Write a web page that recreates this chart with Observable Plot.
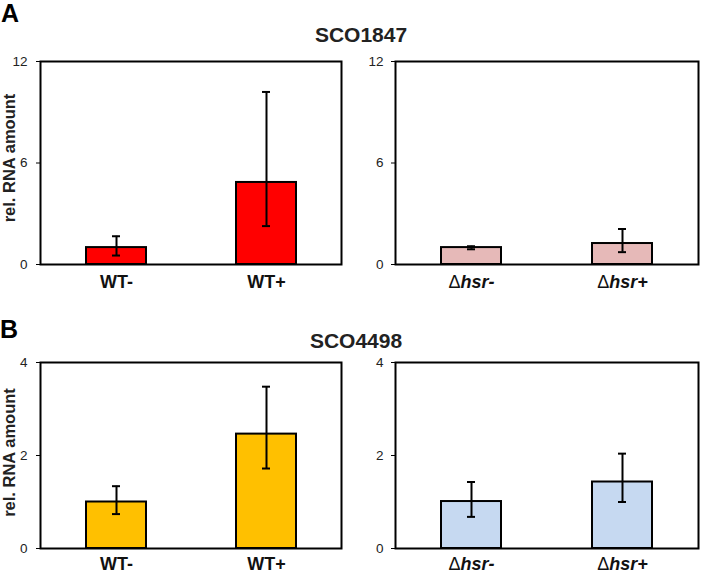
<!DOCTYPE html>
<html>
<head>
<meta charset="utf-8">
<script src="https://cdn.jsdelivr.net/npm/d3@7"></script>
<script src="https://cdn.jsdelivr.net/npm/@observablehq/plot@0.6"></script>
<style>
  html, body { margin: 0; padding: 0; background: #fff; }
  #root { position: relative; width: 702px; height: 574px; background: #fff; overflow: hidden;
          font-family: "Liberation Sans", Arial, Helvetica, sans-serif; color: #000; }
  .abs { position: absolute; line-height: 1; white-space: nowrap; }
  .letter { font-size: 25px; font-weight: bold; }
  .title { font-size: 21px; font-weight: bold; text-align: center; width: 200px; color: #222; }
</style>
</head>
<body>
<div id="root">
  <div class="abs letter" style="left:1px; top:1px;">A</div>
  <div class="abs title" style="left:261px; top:24px;">SCO1847</div>
  <div class="abs letter" style="left:0px; top:317px;">B</div>
  <div class="abs title" style="left:256px; top:330px;">SCO4498</div>
</div>
<script>
// ---- data ----
const catsWT = ["WT-", "WT+"];
const catsHsr = ["Δhsr-", "Δhsr+"];

const sco1847WT = [1.0, 4.85];
const sco1847WTLow = [0.53, 2.27];
const sco1847WTHigh = [1.67, 10.2];

const sco1847Hsr = [1.0, 1.24];
const sco1847HsrLow = [0.9, 0.73];
const sco1847HsrHigh = [1.08, 2.1];

const sco4498WT = [1.0, 2.46];
const sco4498WTLow = [0.74, 1.72];
const sco4498WTHigh = [1.34, 3.48];

const sco4498Hsr = [1.01, 1.43];
const sco4498HsrLow = [0.68, 1.0];
const sco4498HsrHigh = [1.43, 2.04];

const ticksA = [0, 6, 12];
const ticksB = [0, 2, 4];
const yLabel = "rel. RNA amount";

const colors = {
  red: "#ff0000",
  pink: "#e6b9b8",
  orange: "#ffc000",
  blue: "#c6d9f1"
};

const FONT = "'Liberation Sans', Arial, Helvetica, sans-serif";

function panel(o) {
  const data = o.cats.map((c, i) => ({cat: c, v: o.values[i], lo: o.low[i], hi: o.high[i]}));
  const marks = [
    Plot.barY(data, {x: "cat", y: "v", fill: o.color, stroke: "#000", strokeWidth: 2}),
    Plot.ruleX(data, {x: "cat", y1: "lo", y2: "hi", stroke: "#000", strokeWidth: 2}),
    Plot.tickY(data, {x: "cat", y: "lo", stroke: "#000", strokeWidth: 2, insetLeft: 26, insetRight: 26}),
    Plot.tickY(data, {x: "cat", y: "hi", stroke: "#000", strokeWidth: 2, insetLeft: 26, insetRight: 26}),
    Plot.frame({stroke: "#000", strokeWidth: 2}),
    Plot.axisY({ticks: o.ticks, tickSize: 4, tickPadding: o.tickPad, fontSize: 13.5, fill: "#222", label: null, tickFormat: d => String(d)}),
    Plot.axisX({tickSize: 0, tickPadding: o.xPad, fontSize: 18, fontWeight: "bold", fill: "#111", label: null, tickFormat: d => d})
  ];
  if (o.label) {
    marks.push(Plot.text([o.label], {
      frameAnchor: "left", textAnchor: "middle", lineAnchor: "middle",
      dx: o.labelDx, dy: o.labelDy, rotate: -90,
      fontSize: 16.5, fontWeight: "bold", fill: "#222", text: d => d
    }));
  }
  const chart = Plot.plot({
    width: o.width, height: o.height,
    marginLeft: o.ml, marginRight: o.mr, marginTop: o.mt, marginBottom: o.mb,
    x: {type: "band", domain: o.cats, paddingInner: 0.6, paddingOuter: 0.3},
    y: {domain: [0, o.ymax], nice: false},
    style: {fontFamily: FONT, background: "transparent", color: "#000", overflow: "visible"},
    marks
  });
  // style the Δhsr labels: Δ regular, hsr bold italic
  d3.select(chart).selectAll("text").each(function() {
    const t = this.textContent;
    if (t && t.startsWith("Δhsr")) {
      const sel = d3.select(this);
      sel.text(null);
      sel.append("tspan").attr("font-weight", "normal").text("Δ");
      sel.append("tspan").attr("font-style", "italic").attr("font-weight", "bold").text(t.slice(1));
    }
  });
  const wrap = document.createElement("div");
  wrap.className = "abs";
  wrap.style.left = o.left + "px";
  wrap.style.top = o.top + "px";
  wrap.appendChild(chart);
  document.getElementById("root").appendChild(wrap);
}

const rowA = {top: 40, height: 265, mt: 21, mb: 41, ymax: 12, ticks: ticksA, xPad: 11, labelDy: -5};
const rowB = {top: 340, height: 234, mt: 22, mb: 26, ymax: 4, ticks: ticksB, xPad: 9, labelDy: -3};
const colL = {left: 0, width: 350, ml: 40, mr: 9, tickPad: 9, label: yLabel, labelDx: -30.5};
const colR = {left: 350, width: 352, ml: 45, mr: 4, tickPad: 8, label: null};

panel({...rowA, ...colL, cats: catsWT, values: sco1847WT, low: sco1847WTLow, high: sco1847WTHigh, color: colors.red});
panel({...rowA, ...colR, cats: catsHsr, values: sco1847Hsr, low: sco1847HsrLow, high: sco1847HsrHigh, color: colors.pink});
panel({...rowB, ...colL, cats: catsWT, values: sco4498WT, low: sco4498WTLow, high: sco4498WTHigh, color: colors.orange});
panel({...rowB, ...colR, cats: catsHsr, values: sco4498Hsr, low: sco4498HsrLow, high: sco4498HsrHigh, color: colors.blue});
</script>
</body>
</html>
